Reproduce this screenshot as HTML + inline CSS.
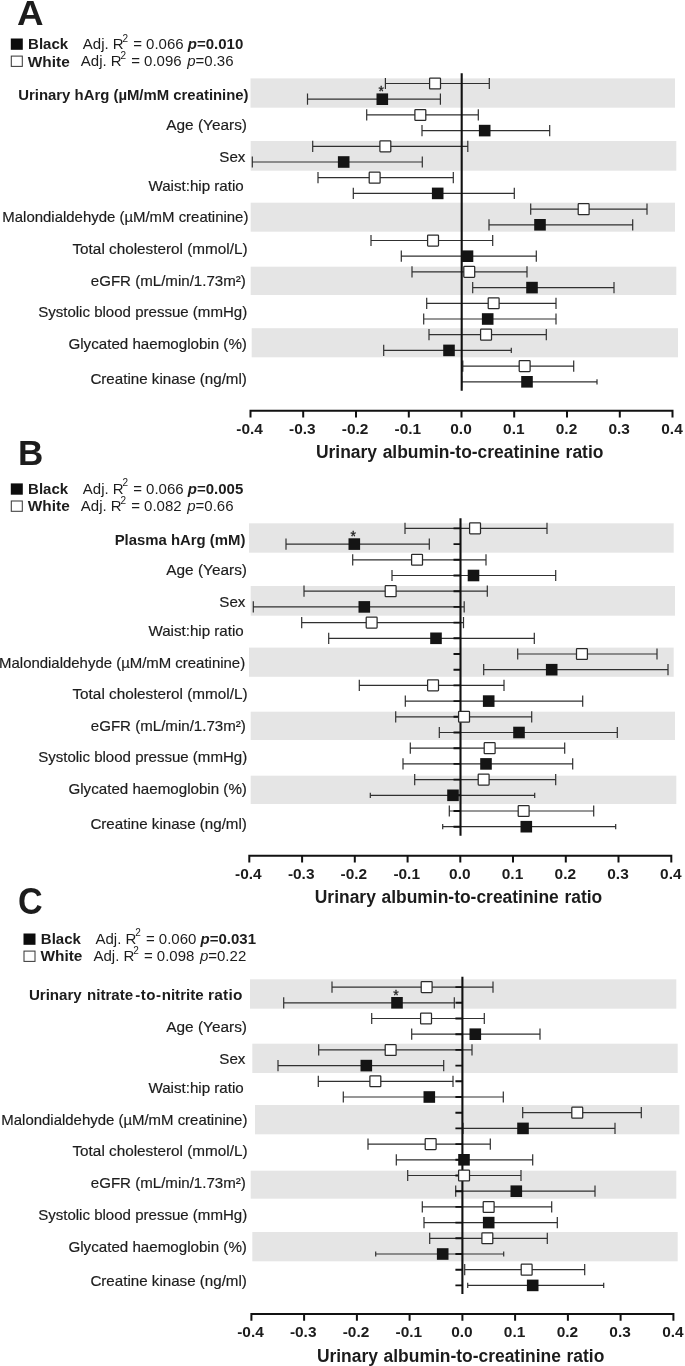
<!DOCTYPE html>
<html><head><meta charset="utf-8"><title>Forest plots</title>
<style>
html,body{margin:0;padding:0;background:#fff;}
body{width:685px;height:1366px;overflow:hidden;}
svg{display:block;font-family:"Liberation Sans",sans-serif;will-change:transform;filter:grayscale(1);}
text{fill:#1c1c1c;}
.b{font-weight:bold;}
.r{stroke:#1c1c1c;stroke-width:0.18px;}
.i{font-style:italic;}
.l{font-size:14.75px;}
.g{font-size:15px;}
.t{font-size:17.45px;font-weight:bold;word-spacing:0.8px;}
.L{font-size:35px;font-weight:bold;}
.e{stroke:#303030;stroke-width:1.2;fill:none;}
.z{stroke:#111;stroke-width:2.1;fill:none;}
.k{fill:#141414;}
.w{fill:#fff;stroke:#2a2a2a;stroke-width:1.25;}
</style></head><body>
<svg width="685" height="1366" viewBox="0 0 685 1366">
<rect width="685" height="1366" fill="#fff"/>
<!-- Panel A -->
<rect x="250.5" y="78.4" width="424.5" height="29.3" fill="#e5e5e5"/>
<rect x="250.7" y="141.0" width="425.6" height="29.7" fill="#e5e5e5"/>
<rect x="250.7" y="202.7" width="424.3" height="29.0" fill="#e5e5e5"/>
<rect x="250.7" y="266.7" width="425.6" height="28.3" fill="#e5e5e5"/>
<rect x="251.7" y="328.2" width="426.3" height="29.1" fill="#e5e5e5"/>
<text class="L" transform="translate(17.1 25.4) scale(1.05 1.0)">A</text>
<rect x="10.8" y="38.5" width="12" height="11.3" fill="#0c0c0c"/>
<rect x="11.3" y="56.1" width="11" height="10.3" fill="#fff" stroke="#3c3c3c" stroke-width="1.05"/>
<text class="g b" x="28.1" y="49.3">Black</text>
<text class="g" x="82.8" y="49.3">Adj. R<tspan dx="-1.1" dy="-7.5" font-size="10">2</tspan><tspan dx="0.9" dy="7.5"> = 0.066 </tspan><tspan class="b i">p</tspan><tspan class="b">=0.010</tspan></text>
<text class="b" font-size="15.4" x="27.8" y="66.5">White</text>
<text class="g" x="80.8" y="66.3">Adj. R<tspan dx="-1.1" dy="-7.5" font-size="10">2</tspan><tspan dx="0.9" dy="7.5"> = 0.096 </tspan><tspan class="i" dx="1.4">p</tspan>=0.36</text>
<text class="b" font-size="14.9" text-anchor="end" x="248.6" y="99.6">Urinary hArg (µM/mM creatinine)</text>
<text class="r" font-size="15.4" text-anchor="end" x="247.0" y="130.4">Age (Years)</text>
<text class="r" font-size="15.15" text-anchor="end" x="245.4" y="161.6">Sex</text>
<text class="r" font-size="15.15" text-anchor="end" x="243.8" y="190.6">Waist:hip ratio</text>
<text class="r" font-size="14.95" text-anchor="end" x="248.4" y="221.8">Malondialdehyde (µM/mM creatinine)</text>
<text class="r" font-size="15.3" text-anchor="end" x="247.6" y="253.5">Total cholesterol (mmol/L)</text>
<text class="r" font-size="15.08" text-anchor="end" x="245.8" y="285.8">eGFR (mL/min/1.73m²)</text>
<text class="r" font-size="15.05" text-anchor="end" x="247.2" y="317.1">Systolic blood pressue (mmHg)</text>
<text class="r" font-size="15.15" text-anchor="end" x="246.9" y="349.4">Glycated haemoglobin (%)</text>
<text class="r" font-size="15.15" text-anchor="end" x="246.9" y="383.9">Creatine kinase (ng/ml)</text>
<path class="e" d="M385.4 77.9V89.1M385.4 83.5H489.3M489.3 77.9V89.1"/>
<path class="e" d="M307.5 93.6V104.8M307.5 99.2H440.4M440.4 93.6V104.8"/>
<path class="e" d="M366.7 109.3V120.5M366.7 114.9H478.3M478.3 109.3V120.5"/>
<path class="e" d="M422.0 125.0V136.2M422.0 130.6H549.7M549.7 125.0V136.2"/>
<path class="e" d="M312.7 140.7V151.9M312.7 146.3H467.8M467.8 140.7V151.9"/>
<path class="e" d="M252.3 156.4V167.6M252.3 162.0H422.3M422.3 156.4V167.6"/>
<path class="e" d="M318.0 172.1V183.3M318.0 177.7H453.3M453.3 172.1V183.3"/>
<path class="e" d="M353.3 187.8V199.0M353.3 193.4H514.3M514.3 187.8V199.0"/>
<path class="e" d="M530.7 203.5V214.7M530.7 209.1H647.0M647.0 203.5V214.7"/>
<path class="e" d="M489.0 219.2V230.4M489.0 224.8H632.7M632.7 219.2V230.4"/>
<path class="e" d="M371.0 234.9V246.1M371.0 240.5H492.7M492.7 234.9V246.1"/>
<path class="e" d="M401.3 250.6V261.8M401.3 256.2H536.3M536.3 250.6V261.8"/>
<path class="e" d="M412.0 266.3V277.5M412.0 271.9H527.0M527.0 266.3V277.5"/>
<path class="e" d="M472.7 282.0V293.2M472.7 287.6H614.0M614.0 282.0V293.2"/>
<path class="e" d="M426.7 297.7V308.9M426.7 303.3H556.0M556.0 297.7V308.9"/>
<path class="e" d="M423.7 313.4V324.6M423.7 319.0H556.0M556.0 313.4V324.6"/>
<path class="e" d="M429.0 329.1V340.3M429.0 334.7H546.3M546.3 329.1V340.3"/>
<path class="e" d="M383.7 344.8V356.0M383.7 350.4H511.3M511.3 347.8V353.0"/>
<path class="e" d="M462.8 360.5V371.7M462.8 366.1H573.7M573.7 360.5V371.7"/>
<path class="e" d="M461.6 376.2V387.4M461.6 381.8H597.0M597.0 379.2V384.4"/>
<path class="z" d="M461.7 73.3V390.7"/>
<rect class="w" rx="0.7" x="429.6" y="78.0" width="10.9" height="10.9"/>
<rect class="k" x="376.5" y="93.4" width="11.6" height="11.6"/>
<rect class="w" rx="0.7" x="414.9" y="109.5" width="10.9" height="10.9"/>
<rect class="k" x="478.9" y="124.8" width="11.6" height="11.6"/>
<rect class="w" rx="0.7" x="379.9" y="140.9" width="10.9" height="10.9"/>
<rect class="k" x="337.9" y="156.2" width="11.6" height="11.6"/>
<rect class="w" rx="0.7" x="369.2" y="172.2" width="10.9" height="10.9"/>
<rect class="k" x="431.9" y="187.6" width="11.6" height="11.6"/>
<rect class="w" rx="0.7" x="578.2" y="203.7" width="10.9" height="10.9"/>
<rect class="k" x="534.2" y="219.0" width="11.6" height="11.6"/>
<rect class="w" rx="0.7" x="427.6" y="235.1" width="10.9" height="10.9"/>
<rect class="k" x="461.7" y="250.4" width="11.6" height="11.6"/>
<rect class="w" rx="0.7" x="463.8" y="266.4" width="10.9" height="10.9"/>
<rect class="k" x="526.2" y="281.8" width="11.6" height="11.6"/>
<rect class="w" rx="0.7" x="488.2" y="297.8" width="10.9" height="10.9"/>
<rect class="k" x="481.9" y="313.2" width="11.6" height="11.6"/>
<rect class="w" rx="0.7" x="480.6" y="329.2" width="10.9" height="10.9"/>
<rect class="k" x="443.2" y="344.6" width="11.6" height="11.6"/>
<rect class="w" rx="0.7" x="519.2" y="360.6" width="10.9" height="10.9"/>
<rect class="k" x="521.2" y="376.0" width="11.6" height="11.6"/>
<text text-anchor="middle" font-size="14" stroke="#1c1c1c" stroke-width="0.3" x="381.3" y="96.3">*</text>
<path d="M249.5 410.8H673.5M250.5 410.8V417.6M303.2 410.8V417.6M356.0 410.8V417.6M408.8 410.8V417.6M461.5 410.8V417.6M514.2 410.8V417.6M567.0 410.8V417.6M619.8 410.8V417.6M672.5 410.8V417.6" stroke="#111" stroke-width="2" fill="none"/>
<text class="b" font-size="15.45" text-anchor="middle" x="249.6" y="433.5">-0.4</text>
<text class="b" font-size="15.45" text-anchor="middle" x="302.4" y="433.5">-0.3</text>
<text class="b" font-size="15.45" text-anchor="middle" x="355.1" y="433.5">-0.2</text>
<text class="b" font-size="15.45" text-anchor="middle" x="407.9" y="433.5">-0.1</text>
<text class="b" font-size="15.45" text-anchor="middle" x="461.0" y="433.5">0.0</text>
<text class="b" font-size="15.45" text-anchor="middle" x="513.8" y="433.5">0.1</text>
<text class="b" font-size="15.45" text-anchor="middle" x="566.5" y="433.5">0.2</text>
<text class="b" font-size="15.45" text-anchor="middle" x="619.2" y="433.5">0.3</text>
<text class="b" font-size="15.45" text-anchor="middle" x="672.0" y="433.5">0.4</text>
<text class="t" text-anchor="middle" x="459.7" y="458.4">Urinary albumin-to-creatinine ratio</text>
<!-- Panel B -->
<rect x="249.0" y="523.3" width="424.7" height="29.4" fill="#e5e5e5"/>
<rect x="250.7" y="586.0" width="424.3" height="29.7" fill="#e5e5e5"/>
<rect x="249.0" y="647.6" width="424.7" height="29.2" fill="#e5e5e5"/>
<rect x="250.7" y="711.7" width="424.3" height="28.3" fill="#e5e5e5"/>
<rect x="250.7" y="775.7" width="425.6" height="28.3" fill="#e5e5e5"/>
<text class="L" transform="translate(18.0 465.3) scale(1.0 1.0)">B</text>
<rect x="10.8" y="483.4" width="12" height="11.3" fill="#0c0c0c"/>
<rect x="11.3" y="501.0" width="11" height="10.3" fill="#fff" stroke="#3c3c3c" stroke-width="1.05"/>
<text class="g b" x="28.1" y="493.9">Black</text>
<text class="g" x="82.8" y="493.9">Adj. R<tspan dx="-1.1" dy="-7.5" font-size="10">2</tspan><tspan dx="0.9" dy="7.5"> = 0.066 </tspan><tspan class="b i">p</tspan><tspan class="b">=0.005</tspan></text>
<text class="b" font-size="15.4" x="27.8" y="511.4">White</text>
<text class="g" x="80.8" y="511.2">Adj. R<tspan dx="-1.1" dy="-7.5" font-size="10">2</tspan><tspan dx="0.9" dy="7.5"> = 0.082 </tspan><tspan class="i" dx="1.4">p</tspan>=0.66</text>
<text class="b" font-size="14.9" text-anchor="end" x="245.4" y="544.5">Plasma hArg (mM)</text>
<text class="r" font-size="15.4" text-anchor="end" x="247.0" y="575.4">Age (Years)</text>
<text class="r" font-size="15.15" text-anchor="end" x="245.4" y="606.6">Sex</text>
<text class="r" font-size="15.15" text-anchor="end" x="243.8" y="635.6">Waist:hip ratio</text>
<text class="r" font-size="14.95" text-anchor="end" x="245.1" y="668.3">Malondialdehyde (µM/mM creatinine)</text>
<text class="r" font-size="15.3" text-anchor="end" x="247.6" y="698.5">Total cholesterol (mmol/L)</text>
<text class="r" font-size="15.08" text-anchor="end" x="245.8" y="730.8">eGFR (mL/min/1.73m²)</text>
<text class="r" font-size="15.05" text-anchor="end" x="247.2" y="762.1">Systolic blood pressue (mmHg)</text>
<text class="r" font-size="15.15" text-anchor="end" x="246.9" y="794.4">Glycated haemoglobin (%)</text>
<text class="r" font-size="15.15" text-anchor="end" x="246.9" y="828.9">Creatine kinase (ng/ml)</text>
<path class="e" d="M405.0 522.8V534.0M405.0 528.4H547.0M547.0 522.8V534.0"/>
<path class="e" d="M286.0 538.5V549.7M286.0 544.1H429.3M429.3 538.5V549.7"/>
<path class="e" d="M352.7 554.2V565.4M352.7 559.8H486.0M486.0 554.2V565.4"/>
<path class="e" d="M392.0 569.9V581.1M392.0 575.5H555.7M555.7 569.9V581.1"/>
<path class="e" d="M304.0 585.6V596.8M304.0 591.2H487.3M487.3 585.6V596.8"/>
<path class="e" d="M253.3 601.3V612.5M253.3 606.9H464.2M464.2 601.3V612.5"/>
<path class="e" d="M301.7 617.0V628.2M301.7 622.6H463.5M463.5 617.0V628.2"/>
<path class="e" d="M328.7 632.7V643.9M328.7 638.3H534.3M534.3 632.7V643.9"/>
<path class="e" d="M517.7 648.4V659.6M517.7 654.0H657.0M657.0 648.4V659.6"/>
<path class="e" d="M483.7 664.1V675.3M483.7 669.7H668.0M668.0 664.1V675.3"/>
<path class="e" d="M359.3 679.8V691.0M359.3 685.4H504.0M504.0 679.8V691.0"/>
<path class="e" d="M405.3 695.5V706.7M405.3 701.1H582.7M582.7 695.5V706.7"/>
<path class="e" d="M395.7 711.2V722.4M395.7 716.8H531.7M531.7 711.2V722.4"/>
<path class="e" d="M439.3 726.9V738.1M439.3 732.5H617.3M617.3 726.9V738.1"/>
<path class="e" d="M410.3 742.6V753.8M410.3 748.2H564.7M564.7 742.6V753.8"/>
<path class="e" d="M403.0 758.3V769.5M403.0 763.9H572.7M572.7 758.3V769.5"/>
<path class="e" d="M414.7 774.0V785.2M414.7 779.6H555.7M555.7 774.0V785.2"/>
<path class="e" d="M370.3 792.7V797.9M370.3 795.3H534.7M534.7 792.7V797.9"/>
<path class="e" d="M449.3 805.4V816.6M449.3 811.0H593.7M593.7 805.4V816.6"/>
<path class="e" d="M442.7 824.1V829.3M442.7 826.7H615.7M615.7 824.1V829.3"/>
<path class="z" d="M460.5 518.3V835.7"/>
<path d="M453.5 528.4H460.5M453.5 544.1H460.5M453.5 559.8H460.5M453.5 575.5H460.5M453.5 591.2H460.5M453.5 606.9H460.5M453.5 622.6H460.5M453.5 638.3H460.5M453.5 654.0H460.5M453.5 669.7H460.5M453.5 685.4H460.5M453.5 701.1H460.5M453.5 716.8H460.5M453.5 732.5H460.5M453.5 748.2H460.5M453.5 763.9H460.5M453.5 779.6H460.5M453.5 795.3H460.5M453.5 811.0H460.5M453.5 826.7H460.5" stroke="#111" stroke-width="1.9" fill="none"/>
<rect class="w" rx="0.7" x="469.6" y="522.9" width="10.9" height="10.9"/>
<rect class="k" x="348.5" y="538.3" width="11.6" height="11.6"/>
<rect class="w" rx="0.7" x="411.6" y="554.3" width="10.9" height="10.9"/>
<rect class="k" x="467.7" y="569.7" width="11.6" height="11.6"/>
<rect class="w" rx="0.7" x="385.2" y="585.7" width="10.9" height="10.9"/>
<rect class="k" x="358.5" y="601.1" width="11.6" height="11.6"/>
<rect class="w" rx="0.7" x="366.2" y="617.1" width="10.9" height="10.9"/>
<rect class="k" x="430.2" y="632.5" width="11.6" height="11.6"/>
<rect class="w" rx="0.7" x="576.5" y="648.5" width="10.9" height="10.9"/>
<rect class="k" x="545.9" y="663.9" width="11.6" height="11.6"/>
<rect class="w" rx="0.7" x="427.6" y="679.9" width="10.9" height="10.9"/>
<rect class="k" x="482.9" y="695.3" width="11.6" height="11.6"/>
<rect class="w" rx="0.7" x="458.6" y="711.3" width="10.9" height="10.9"/>
<rect class="k" x="513.2" y="726.7" width="11.6" height="11.6"/>
<rect class="w" rx="0.7" x="484.2" y="742.7" width="10.9" height="10.9"/>
<rect class="k" x="480.2" y="758.1" width="11.6" height="11.6"/>
<rect class="w" rx="0.7" x="478.2" y="774.1" width="10.9" height="10.9"/>
<rect class="k" x="447.2" y="789.5" width="11.6" height="11.6"/>
<rect class="w" rx="0.7" x="518.2" y="805.5" width="10.9" height="10.9"/>
<rect class="k" x="520.5" y="820.9" width="11.6" height="11.6"/>
<text text-anchor="middle" font-size="14" stroke="#1c1c1c" stroke-width="0.3" x="353.3" y="541.2">*</text>
<path d="M248.3 855.8H672.3M249.3 855.8V862.6M302.1 855.8V862.6M354.8 855.8V862.6M407.6 855.8V862.6M460.3 855.8V862.6M513.0 855.8V862.6M565.8 855.8V862.6M618.5 855.8V862.6M671.3 855.8V862.6" stroke="#111" stroke-width="2" fill="none"/>
<text class="b" font-size="15.45" text-anchor="middle" x="248.4" y="878.5">-0.4</text>
<text class="b" font-size="15.45" text-anchor="middle" x="301.2" y="878.5">-0.3</text>
<text class="b" font-size="15.45" text-anchor="middle" x="353.9" y="878.5">-0.2</text>
<text class="b" font-size="15.45" text-anchor="middle" x="406.7" y="878.5">-0.1</text>
<text class="b" font-size="15.45" text-anchor="middle" x="459.8" y="878.5">0.0</text>
<text class="b" font-size="15.45" text-anchor="middle" x="512.5" y="878.5">0.1</text>
<text class="b" font-size="15.45" text-anchor="middle" x="565.3" y="878.5">0.2</text>
<text class="b" font-size="15.45" text-anchor="middle" x="618.0" y="878.5">0.3</text>
<text class="b" font-size="15.45" text-anchor="middle" x="670.8" y="878.5">0.4</text>
<text class="t" text-anchor="middle" x="458.5" y="903.4">Urinary albumin-to-creatinine ratio</text>
<!-- Panel C -->
<rect x="250.0" y="979.3" width="426.3" height="29.4" fill="#e5e5e5"/>
<rect x="252.3" y="1043.7" width="425.4" height="29.3" fill="#e5e5e5"/>
<rect x="255.0" y="1105.0" width="424.3" height="29.3" fill="#e5e5e5"/>
<rect x="250.7" y="1170.7" width="425.6" height="28.0" fill="#e5e5e5"/>
<rect x="252.3" y="1232.0" width="425.4" height="29.3" fill="#e5e5e5"/>
<text class="L" transform="translate(18.0 914.3) scale(0.975 1.055)">C</text>
<rect x="23.5" y="933.5" width="12" height="11.3" fill="#0c0c0c"/>
<rect x="24.0" y="951.1" width="11" height="10.3" fill="#fff" stroke="#3c3c3c" stroke-width="1.05"/>
<text class="g b" x="40.8" y="943.9">Black</text>
<text class="g" x="95.5" y="943.9">Adj. R<tspan dx="-1.1" dy="-7.5" font-size="10">2</tspan><tspan dx="0.9" dy="7.5"> = 0.060 </tspan><tspan class="b i">p</tspan><tspan class="b">=0.031</tspan></text>
<text class="b" font-size="15.4" x="40.5" y="961.4">White</text>
<text class="g" x="93.5" y="961.2">Adj. R<tspan dx="-1.1" dy="-7.5" font-size="10">2</tspan><tspan dx="0.9" dy="7.5"> = 0.098 </tspan><tspan class="i" dx="1.4">p</tspan>=0.22</text>
<text class="b" font-size="15.1" y="999.6"><tspan x="28.9">Urinary</tspan><tspan x="87">nitrate</tspan><tspan x="135.3" letter-spacing="0.45">-to-</tspan><tspan x="161.7">nitrite</tspan><tspan x="207.9" font-size="15.4" letter-spacing="0.3">ratio</tspan></text>
<text class="b" font-size="14.9" text-anchor="end" x="241.4" y="999.6"></text>
<text class="r" font-size="15.4" text-anchor="end" x="247.0" y="1032.4">Age (Years)</text>
<text class="r" font-size="15.15" text-anchor="end" x="245.4" y="1063.6">Sex</text>
<text class="r" font-size="15.15" text-anchor="end" x="243.8" y="1092.6">Waist:hip ratio</text>
<text class="r" font-size="14.95" text-anchor="end" x="247.4" y="1125.3">Malondialdehyde (µM/mM creatinine)</text>
<text class="r" font-size="15.3" text-anchor="end" x="247.6" y="1156.0">Total cholesterol (mmol/L)</text>
<text class="r" font-size="15.08" text-anchor="end" x="245.8" y="1188.3">eGFR (mL/min/1.73m²)</text>
<text class="r" font-size="15.05" text-anchor="end" x="247.2" y="1219.6">Systolic blood pressue (mmHg)</text>
<text class="r" font-size="15.15" text-anchor="end" x="246.9" y="1251.9">Glycated haemoglobin (%)</text>
<text class="r" font-size="15.15" text-anchor="end" x="246.9" y="1286.4">Creatine kinase (ng/ml)</text>
<path class="e" d="M332.0 981.5V992.7M332.0 987.1H493.0M493.0 981.5V992.7"/>
<path class="e" d="M283.7 997.2V1008.4M283.7 1002.8H454.3M454.3 997.2V1008.4"/>
<path class="e" d="M371.7 1012.9V1024.1M371.7 1018.5H484.3M484.3 1012.9V1024.1"/>
<path class="e" d="M411.7 1028.6V1039.8M411.7 1034.2H540.0M540.0 1028.6V1039.8"/>
<path class="e" d="M318.7 1044.3V1055.5M318.7 1049.9H472.0M472.0 1044.3V1055.5"/>
<path class="e" d="M278.0 1060.0V1071.2M278.0 1065.6H443.7M443.7 1060.0V1071.2"/>
<path class="e" d="M318.3 1075.7V1086.9M318.3 1081.3H453.0M453.0 1075.7V1086.9"/>
<path class="e" d="M343.3 1091.4V1102.6M343.3 1097.0H503.3M503.3 1091.4V1102.6"/>
<path class="e" d="M522.7 1107.1V1118.3M522.7 1112.7H641.3M641.3 1107.1V1118.3"/>
<path class="e" d="M463.0 1122.8V1134.0M463.0 1128.4H615.0M615.0 1122.8V1134.0"/>
<path class="e" d="M368.0 1138.5V1149.7M368.0 1144.1H490.3M490.3 1138.5V1149.7"/>
<path class="e" d="M396.3 1154.2V1165.4M396.3 1159.8H532.7M532.7 1154.2V1165.4"/>
<path class="e" d="M407.7 1169.9V1181.1M407.7 1175.5H521.0M521.0 1169.9V1181.1"/>
<path class="e" d="M455.7 1185.6V1196.8M455.7 1191.2H595.0M595.0 1185.6V1196.8"/>
<path class="e" d="M422.3 1201.3V1212.5M422.3 1206.9H551.7M551.7 1201.3V1212.5"/>
<path class="e" d="M424.0 1217.0V1228.2M424.0 1222.6H557.3M557.3 1217.0V1228.2"/>
<path class="e" d="M429.7 1232.7V1243.9M429.7 1238.3H547.3M547.3 1232.7V1243.9"/>
<path class="e" d="M375.7 1251.4V1256.6M375.7 1254.0H503.7M503.7 1251.4V1256.6"/>
<path class="e" d="M464.7 1264.1V1275.3M464.7 1269.7H584.7M584.7 1264.1V1275.3"/>
<path class="e" d="M467.7 1282.8V1288.0M467.7 1285.4H603.7M603.7 1282.8V1288.0"/>
<path class="z" d="M462.4 976.7V1294.0"/>
<path d="M455.4 987.1H462.4M455.4 1002.8H462.4M455.4 1018.5H462.4M455.4 1034.2H462.4M455.4 1049.9H462.4M455.4 1065.6H462.4M455.4 1081.3H462.4M455.4 1097.0H462.4M455.4 1112.7H462.4M455.4 1128.4H462.4M455.4 1144.1H462.4M455.4 1159.8H462.4M455.4 1175.5H462.4M455.4 1191.2H462.4M455.4 1206.9H462.4M455.4 1222.6H462.4M455.4 1238.3H462.4M455.4 1254.0H462.4M455.4 1269.7H462.4M455.4 1285.4H462.4" stroke="#111" stroke-width="1.9" fill="none"/>
<rect class="w" rx="0.7" x="421.2" y="981.6" width="10.9" height="10.9"/>
<rect class="k" x="391.2" y="997.0" width="11.6" height="11.6"/>
<rect class="w" rx="0.7" x="420.6" y="1013.0" width="10.9" height="10.9"/>
<rect class="k" x="469.5" y="1028.4" width="11.6" height="11.6"/>
<rect class="w" rx="0.7" x="385.2" y="1044.5" width="10.9" height="10.9"/>
<rect class="k" x="360.5" y="1059.8" width="11.6" height="11.6"/>
<rect class="w" rx="0.7" x="369.9" y="1075.8" width="10.9" height="10.9"/>
<rect class="k" x="423.5" y="1091.2" width="11.6" height="11.6"/>
<rect class="w" rx="0.7" x="571.8" y="1107.2" width="10.9" height="10.9"/>
<rect class="k" x="517.2" y="1122.6" width="11.6" height="11.6"/>
<rect class="w" rx="0.7" x="425.2" y="1138.6" width="10.9" height="10.9"/>
<rect class="k" x="458.2" y="1154.0" width="11.6" height="11.6"/>
<rect class="w" rx="0.7" x="458.6" y="1170.0" width="10.9" height="10.9"/>
<rect class="k" x="510.5" y="1185.4" width="11.6" height="11.6"/>
<rect class="w" rx="0.7" x="483.2" y="1201.5" width="10.9" height="10.9"/>
<rect class="k" x="482.9" y="1216.8" width="11.6" height="11.6"/>
<rect class="w" rx="0.7" x="481.9" y="1232.8" width="10.9" height="10.9"/>
<rect class="k" x="436.9" y="1248.2" width="11.6" height="11.6"/>
<rect class="w" rx="0.7" x="521.2" y="1264.2" width="10.9" height="10.9"/>
<rect class="k" x="526.9" y="1279.6" width="11.6" height="11.6"/>
<text text-anchor="middle" font-size="14" stroke="#1c1c1c" stroke-width="0.3" x="396.0" y="999.9">*</text>
<path d="M250.4 1314.0H674.4M251.4 1314.0V1320.8M304.1 1314.0V1320.8M356.9 1314.0V1320.8M409.6 1314.0V1320.8M462.4 1314.0V1320.8M515.1 1314.0V1320.8M567.9 1314.0V1320.8M620.6 1314.0V1320.8M673.4 1314.0V1320.8" stroke="#111" stroke-width="2" fill="none"/>
<text class="b" font-size="15.45" text-anchor="middle" x="250.5" y="1336.7">-0.4</text>
<text class="b" font-size="15.45" text-anchor="middle" x="303.2" y="1336.7">-0.3</text>
<text class="b" font-size="15.45" text-anchor="middle" x="356.0" y="1336.7">-0.2</text>
<text class="b" font-size="15.45" text-anchor="middle" x="408.8" y="1336.7">-0.1</text>
<text class="b" font-size="15.45" text-anchor="middle" x="461.9" y="1336.7">0.0</text>
<text class="b" font-size="15.45" text-anchor="middle" x="514.6" y="1336.7">0.1</text>
<text class="b" font-size="15.45" text-anchor="middle" x="567.4" y="1336.7">0.2</text>
<text class="b" font-size="15.45" text-anchor="middle" x="620.1" y="1336.7">0.3</text>
<text class="b" font-size="15.45" text-anchor="middle" x="672.9" y="1336.7">0.4</text>
<text class="t" text-anchor="middle" x="460.6" y="1362.3">Urinary albumin-to-creatinine ratio</text>
</svg></body></html>
